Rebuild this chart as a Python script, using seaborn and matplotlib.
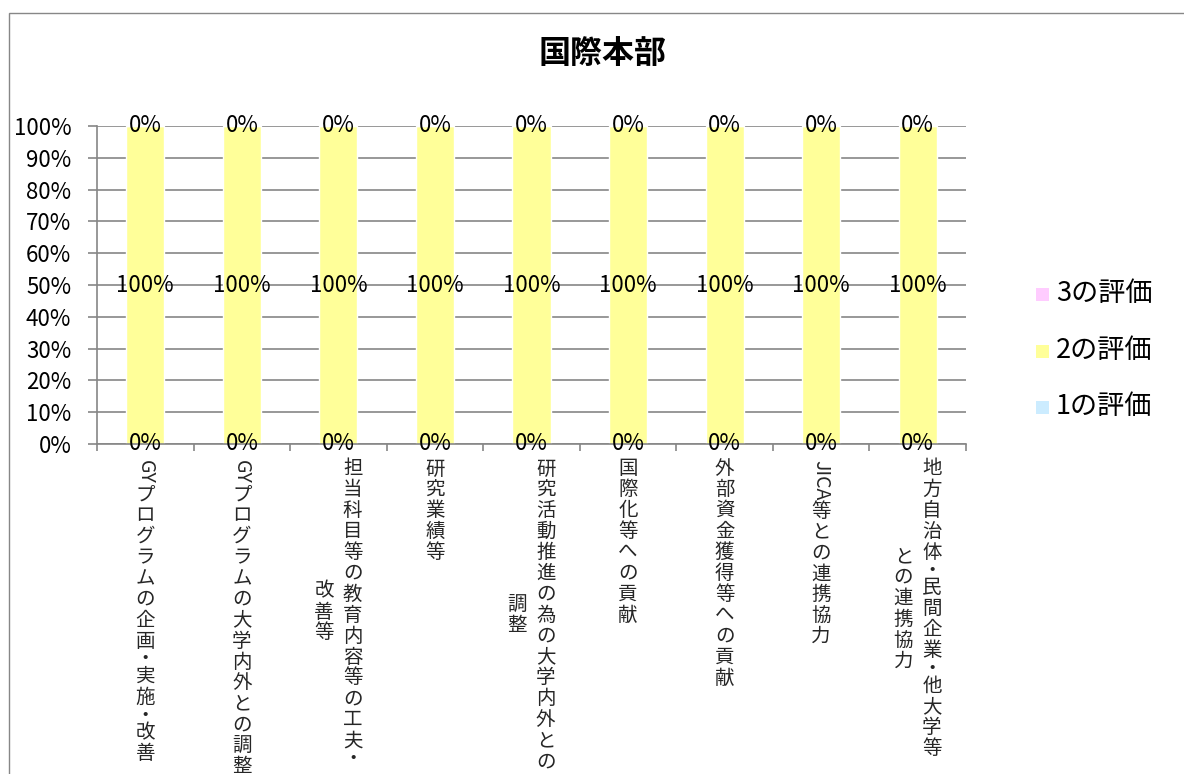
import matplotlib
matplotlib.use("Agg")
import matplotlib.pyplot as plt
import seaborn as sns
import numpy as np
import pandas as pd
from matplotlib.patches import Rectangle

# ---------------- data ----------------
title = "国際本部"
categories = [
    "GYプログラムの企画・実施・改善",
    "GYプログラムの大学内外との調整",
    "担当科目等の教育内容等の工夫・\n改善等",
    "研究業績等",
    "研究活動推進の為の大学内外との\n調整",
    "国際化等への貢献",
    "外部資金獲得等への貢献",
    "JICA等との連携協力",
    "地方自治体・民間企業・他大学等\nとの連携協力",
]
series_names = ["1の評価", "2の評価", "3の評価"]
rating1 = [0, 0, 0, 0, 0, 0, 0, 0, 0]
rating2 = [100, 100, 100, 100, 100, 100, 100, 100, 100]
rating3 = [0, 0, 0, 0, 0, 0, 0, 0, 0]
colors = ["#CCECFF", "#FFFF99", "#FFCCFF"]
yticks = [0, 10, 20, 30, 40, 50, 60, 70, 80, 90, 100]
ytick_labels = [f"{t}%" for t in yticks]

# ---------------- style ----------------
sns.set_theme(style="white")
plt.rcParams["font.family"] = ["Noto Sans CJK JP", "DejaVu Sans"]

W, H = 1184, 774
fig = plt.figure(figsize=(W / 100, H / 100), dpi=100)
fig.patch.set_facecolor("white")
ax = fig.add_axes([97 / W, 1 - 444 / H, (966 - 97) / W, (444 - 126) / H])

GRID = "#868686"

series = [rating1, rating2, rating3]
bottom = np.zeros(len(categories))
for name, vals, col in zip(series_names, series, colors):
    df = pd.DataFrame({"cat": categories, "val": vals})
    sns.barplot(data=df, x="cat", y="val", order=categories, color=col,
                saturation=1, width=0.394, bottom=bottom, errorbar=None,
                ax=ax, label=name, zorder=2)
    for i, v in enumerate(vals):
        ax.text(i, bottom[i] + v / 2, f"{v:.0f}%", ha="center", va="center",
                fontsize=16, color="black", zorder=5)
    bottom = bottom + np.array(vals, dtype=float)

ax.set_xlim(-0.5, len(categories) - 0.5)
ax.set_ylim(0, 100)
ax.set_yticks(yticks)
ax.set_yticklabels(ytick_labels)
ax.set_xlabel("")
ax.set_ylabel("")
ax.set_xticks(range(len(categories)))
ax.set_xticklabels([""] * len(categories))
ax.set_xticks(np.arange(-0.5, len(categories)), minor=True)
ax.yaxis.grid(True, color=GRID, lw=1.2)
ax.xaxis.grid(False)
ax.set_axisbelow(True)
for s in ["top", "right"]:
    ax.spines[s].set_visible(False)
for s in ["left", "bottom"]:
    ax.spines[s].set_color(GRID)
    ax.spines[s].set_linewidth(1.2)
ax.tick_params(axis="y", which="major", left=True, length=6.5, width=1.2,
               color=GRID, pad=12, labelsize=16, labelcolor="black")
ax.tick_params(axis="x", which="major", bottom=False, length=0)
ax.tick_params(axis="x", which="minor", bottom=True, length=5, width=1.2,
               color=GRID, direction="out")
if ax.get_legend() is not None:
    ax.get_legend().remove()

# ---------------- vertical category labels ----------------
LAB_FS = 14
CJK_ADV = 20.9
DOT_ADV = 14.5
COL_SP = 28.5
TOP = 14.5
renderer = fig.canvas.get_renderer()


def tokens(s):
    out, buf = [], ""
    for ch in s:
        if ch.isascii():
            buf += ch
        else:
            if buf:
                out.append(("latin", buf))
                buf = ""
            out.append(("dot" if ch == "・" else "cjk", ch))
    if buf:
        out.append(("latin", buf))
    return out


def latin_width(s):
    t = fig.text(0, 0, s, fontsize=LAB_FS)
    w = t.get_window_extent(renderer).width
    t.remove()
    return w


xt = ax.get_xaxis_transform()
for i, lab in enumerate(categories):
    cols = lab.split("\n")
    toks = [tokens(c) for c in cols]
    lens = []
    for tk in toks:
        L = 0
        for kind, s in tk:
            L += CJK_ADV if kind == "cjk" else DOT_ADV if kind == "dot" else latin_width(s) + 2
        lens.append(L)
    Lmax = max(lens)
    n = len(cols)
    for c, tk in enumerate(toks):
        dx = ((n - 1) / 2 - c) * COL_SP
        cur = TOP + (Lmax - lens[c]) / 2
        for kind, s in tk:
            if kind == "latin":
                w = latin_width(s) + 2
                ax.annotate(s, xy=(i, 0), xycoords=xt, xytext=(dx, -(cur + 1)),
                            textcoords="offset pixels", rotation=-90,
                            ha="center", va="top", fontsize=LAB_FS,
                            annotation_clip=False)
                cur += w
            else:
                adv = CJK_ADV if kind == "cjk" else DOT_ADV
                ax.annotate(s, xy=(i, 0), xycoords=xt,
                            xytext=(dx, -(cur + adv / 2)),
                            textcoords="offset pixels", ha="center",
                            va="center", fontsize=LAB_FS,
                            annotation_clip=False)
                cur += adv

# ---------------- title ----------------
fig.text(602.5 / W, 1 - 54 / H, title, ha="center", va="center",
         fontsize=23, fontweight="bold", color="black")

# ---------------- legend (manual) ----------------
leg_rows = [("3の評価", colors[2], 294.5), ("2の評価", colors[1], 351.5),
            ("1の評価", colors[0], 407.5)]
sq = 13.5
for name, col, yc in leg_rows:
    fig.add_artist(Rectangle(((1042.5 - sq / 2) / W, 1 - (yc + sq / 2) / H),
                             sq / W, sq / H, transform=fig.transFigure,
                             facecolor=col, edgecolor="none"))
    fig.text(1056 / W, 1 - (yc - 1) / H, name, ha="left", va="center",
             fontsize=19.5, color="black")

# ---------------- outer frame ----------------
fig.add_artist(Rectangle((8.5 / W, -0.05), 1.2, (H - 12.5) / H + 0.05,
                         transform=fig.transFigure, fill=False,
                         edgecolor="#878787", lw=1.0, clip_on=False))

fig.savefig("out.png", dpi=100, facecolor="white")
